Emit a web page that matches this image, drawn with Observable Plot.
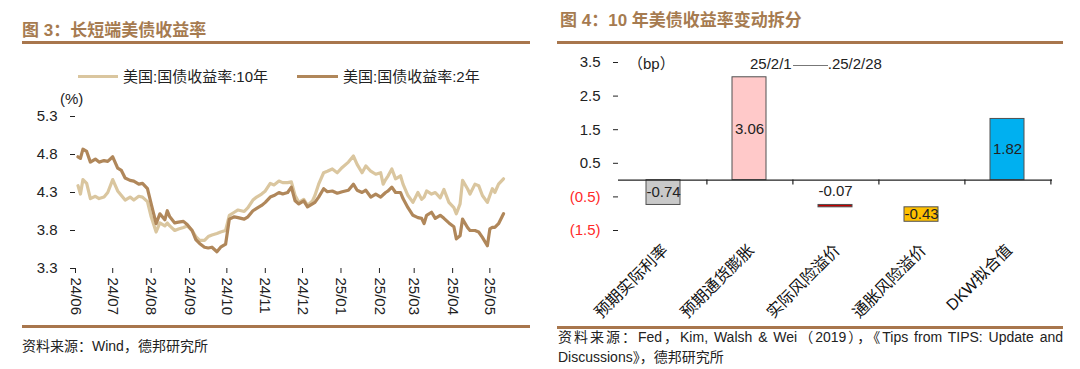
<!DOCTYPE html>
<html><head><meta charset="utf-8">
<script src="https://cdn.jsdelivr.net/npm/d3@7"></script>
<script src="https://cdn.jsdelivr.net/npm/@observablehq/plot@0.6"></script>
<style>
body{margin:0;width:1080px;height:369px;position:relative;background:#fff;overflow:hidden;font-family:"Liberation Sans","Noto Sans CJK SC",sans-serif;color:#222}
.abs{position:absolute;white-space:nowrap}
.title{font-weight:bold;color:#a67b50;font-size:17px;line-height:17px}
.rule{height:3px;background:#a8764d}
.cap{font-size:14px;line-height:20px;color:#222}
.leg{font-size:15px;line-height:15px}
.sw{position:absolute;height:3px}
svg{overflow:visible}
</style></head><body>
<div class="abs title" style="left:22px;top:22px">图 3：长短端美债收益率</div>
<div class="abs rule" style="left:22px;top:41px;width:508px"></div>
<div class="abs title" style="left:560px;top:12px">图 4：10 年美债收益率变动拆分</div>
<div class="abs rule" style="left:557px;top:41px;width:506px"></div>
<div id="left" class="abs" style="left:0;top:0"></div>
<div id="right" class="abs" style="left:540px;top:0"></div>
<div class="sw" style="left:78px;top:75px;width:40px;background:#dac69f"></div>
<div class="abs leg" style="left:123px;top:69px">美国:国债收益率:10年</div>
<div class="sw" style="left:297px;top:75px;width:41px;background:#b0875a"></div>
<div class="abs leg" style="left:343px;top:69px">美国:国债收益率:2年</div>
<div class="abs leg" style="left:60px;top:91px">(%)</div>
<div class="abs leg" style="left:628px;top:56px">（bp）</div>
<div class="abs leg" style="left:750px;top:56px">25/2/1<span style="display:inline-block;width:35px;border-top:1.5px solid #777;vertical-align:middle;margin:0 0 0 1px"></span>.25/2/28</div>
<div class="abs rule" style="left:22px;top:325px;width:508px"></div>
<div class="abs cap" style="left:22px;top:336px">资料来源：Wind，德邦研究所</div>
<div class="abs rule" style="left:557px;top:326px;width:506px"></div>
<div class="abs cap" style="left:558px;top:327px;width:505px;white-space:normal;text-align:justify;text-align-last:left">资料来源：Fed，Kim, Walsh &amp; Wei（2019），《Tips from TIPS: Update and Discussions》，德邦研究所</div>
<script>
// ---- Figure 3 data ----
const dates = ["2024-06-03","2024-06-05","2024-06-07","2024-06-10","2024-06-13","2024-06-17","2024-06-20","2024-06-24","2024-06-27","2024-07-01","2024-07-05","2024-07-08","2024-07-11","2024-07-15","2024-07-18","2024-07-22","2024-07-25","2024-07-29","2024-08-01","2024-08-05","2024-08-08","2024-08-12","2024-08-14","2024-08-16","2024-08-20","2024-08-23","2024-08-27","2024-08-30","2024-09-03","2024-09-06","2024-09-09","2024-09-13","2024-09-16","2024-09-19","2024-09-23","2024-09-26","2024-09-30","2024-10-03","2024-10-07","2024-10-10","2024-10-15","2024-10-18","2024-10-22","2024-10-25","2024-10-29","2024-11-01","2024-11-05","2024-11-08","2024-11-12","2024-11-15","2024-11-19","2024-11-22","2024-11-25","2024-11-28","2024-12-02","2024-12-05","2024-12-09","2024-12-11","2024-12-14","2024-12-18","2024-12-21","2024-12-25","2024-12-29","2025-01-02","2025-01-07","2025-01-11","2025-01-14","2025-01-18","2025-01-21","2025-01-25","2025-01-29","2025-02-02","2025-02-04","2025-02-06","2025-02-08","2025-02-11","2025-02-14","2025-02-18","2025-02-20","2025-02-24","2025-02-28","2025-03-04","2025-03-07","2025-03-09","2025-03-11","2025-03-15","2025-03-18","2025-03-22","2025-03-25","2025-03-29","2025-04-02","2025-04-04","2025-04-07","2025-04-09","2025-04-13","2025-04-15","2025-04-19","2025-04-22","2025-04-25","2025-04-29","2025-05-01","2025-05-03","2025-05-05","2025-05-08","2025-05-12"];
const y10 = [4.39,4.28,4.47,4.42,4.22,4.25,4.22,4.24,4.30,4.47,4.32,4.26,4.20,4.24,4.20,4.25,4.24,4.18,3.98,3.78,3.90,3.86,3.90,3.86,3.80,3.82,3.84,3.86,3.80,3.72,3.67,3.67,3.72,3.74,3.76,3.78,3.80,4.00,4.04,4.07,4.05,4.10,4.20,4.24,4.28,4.32,4.42,4.40,4.45,4.43,4.43,4.44,4.26,4.17,4.21,4.13,4.19,4.26,4.41,4.56,4.58,4.61,4.56,4.63,4.70,4.78,4.67,4.56,4.65,4.58,4.54,4.56,4.41,4.47,4.52,4.61,4.48,4.52,4.41,4.26,4.17,4.30,4.21,4.24,4.32,4.28,4.30,4.23,4.34,4.17,4.10,4.02,4.15,4.46,4.35,4.28,4.41,4.39,4.26,4.17,4.26,4.35,4.30,4.41,4.48];
const y2 = [4.77,4.75,4.87,4.84,4.70,4.74,4.70,4.72,4.71,4.77,4.62,4.59,4.49,4.46,4.45,4.41,4.42,4.35,4.15,3.89,4.02,3.94,4.06,3.98,3.90,3.91,3.92,3.88,3.80,3.68,3.63,3.58,3.57,3.58,3.52,3.58,3.62,3.95,3.98,3.97,3.95,3.98,4.06,4.09,4.13,4.17,4.24,4.26,4.30,4.28,4.30,4.37,4.19,4.15,4.19,4.11,4.15,4.17,4.24,4.35,4.31,4.32,4.29,4.31,4.33,4.41,4.33,4.30,4.33,4.24,4.28,4.24,4.27,4.30,4.32,4.37,4.30,4.30,4.22,4.10,4.00,3.97,3.96,3.89,4.00,4.04,3.96,4.00,3.96,3.90,3.85,3.69,3.73,3.95,3.84,3.80,3.80,3.78,3.71,3.60,3.82,3.84,3.84,3.89,4.02];
const seriesNames = ["美国:国债收益率:10年","美国:国债收益率:2年"];
const seriesColors = ["#dac69f","#b0875a"];
const yTicksL = [3.3,3.8,4.3,4.8,5.3];
const monthTicks = ["2024-06-01","2024-07-01","2024-08-01","2024-09-01","2024-10-01","2024-11-01","2024-12-01","2025-01-01","2025-02-01","2025-03-01","2025-04-01","2025-05-01"];
const xDomainL = ["2024-06-01","2025-05-12"];

// ---- Figure 4 data ----
const cats = ["预期实际利率","预期通货膨胀","实际风险溢价","通胀风险溢价","DKW拟合值"];
const changes = [-0.74, 3.06, -0.07, -0.43, 1.82];
const bases = [0, 0, -0.74, -0.81, 0];
const barColors = ["#c9c9c9","#ffc9c9","#c00000","#ffc000","#00b0f0"];
const yTicksR = [-1.5,-0.5,0.5,1.5,2.5,3.5];

const font = "Liberation Sans, Noto Sans CJK SC, sans-serif";
const P = d => new Date(d + "T00:00:00Z");

const rows = [];
dates.forEach((d,i)=>{ rows.push({date:P(d), v:y10[i], s:seriesNames[0]}); });
dates.forEach((d,i)=>{ rows.push({date:P(d), v:y2[i], s:seriesNames[1]}); });

const left = Plot.plot({
  width: 540, height: 330,
  marginLeft: 75, marginRight: 37, marginTop: 116, marginBottom: 62,
  style: {fontFamily: font, fontSize: "15px", color: "#222", background: "transparent", overflow: "visible"},
  x: {type: "utc", domain: xDomainL.map(P)},
  y: {domain: [3.3, 5.3]},
  color: {domain: seriesNames, range: seriesColors},
  marks: [
    Plot.axisY(yTicksL, {tickSize: 5, tickPadding: 13, tickFormat: d => d.toFixed(1), line: true, label: null, fontSize: 15}),
    Plot.axisX(monthTicks.map(P), {tickSize: 5, tickPadding: 4, tickRotate: 90, tickFormat: d3.utcFormat("%y/%m"), line: true, label: null, fontSize: 15}),
    Plot.line(rows, {x: "date", y: "v", z: "s", stroke: "s", strokeWidth: 3.2, strokeLinejoin: "round"})
  ]
});
document.getElementById("left").appendChild(left);

const bars = cats.map((c,i)=>({cat:c, value:changes[i], base:bases[i], color:barColors[i]}));
const mL = 78, mR = 28, W = 540;
const bw = (W - mL - mR) / cats.length;
const fmtR = d => d < 0 ? `(${Math.abs(d).toFixed(1)})` : d.toFixed(1);

const right = Plot.plot({
  width: W, height: 330,
  marginLeft: mL, marginRight: mR, marginTop: 62, marginBottom: 100,
  style: {fontFamily: font, fontSize: "15px", color: "#222", background: "transparent", overflow: "visible"},
  x: {domain: cats, padding: 0},
  y: {domain: [-1.5, 3.5]},
  color: {type: "identity"},
  marks: [
    Plot.barY(bars, {x: "cat", y1: "base", y2: d => d.base + d.value, fill: "color", stroke: "#505050", strokeWidth: 1, insetLeft: 26, insetRight: 26}),
    Plot.ruleY([0], {stroke: "#222", strokeWidth: 1.2}),
    Plot.ruleX(cats, {x: d => d, y1: 0, y2: 0, insetBottom: -5, dx: bw/2, stroke: "#222", strokeWidth: 1.2}),
    Plot.axisY(yTicksR.filter(d => d > 0), {tickSize: 5, tickPadding: 13, tickFormat: fmtR, line: true, label: null, fontSize: 15}),
    Plot.axisY(yTicksR.filter(d => d < 0), {tickSize: 5, tickPadding: 13, tickFormat: fmtR, label: null, fontSize: 15, fill: "#ff2a2a"}),
    Plot.axisX(cats, {tickSize: 0, tickPadding: 17, tickRotate: -45, label: null, fontSize: 16, fill: "#111", dx: 2}),
    Plot.text(bars.filter(d => Math.abs(d.value) >= 0.2), {x: "cat", y: d => d.base + d.value/2, text: d => d.value.toFixed(2), fontSize: 15, fill: "#222"}),
    Plot.text(bars.filter(d => Math.abs(d.value) < 0.2), {x: "cat", y: "base", dy: -14, text: d => d.value.toFixed(2), fontSize: 15, fill: "#222"})
  ]
});
document.getElementById("right").appendChild(right);
</script>
</body></html>
